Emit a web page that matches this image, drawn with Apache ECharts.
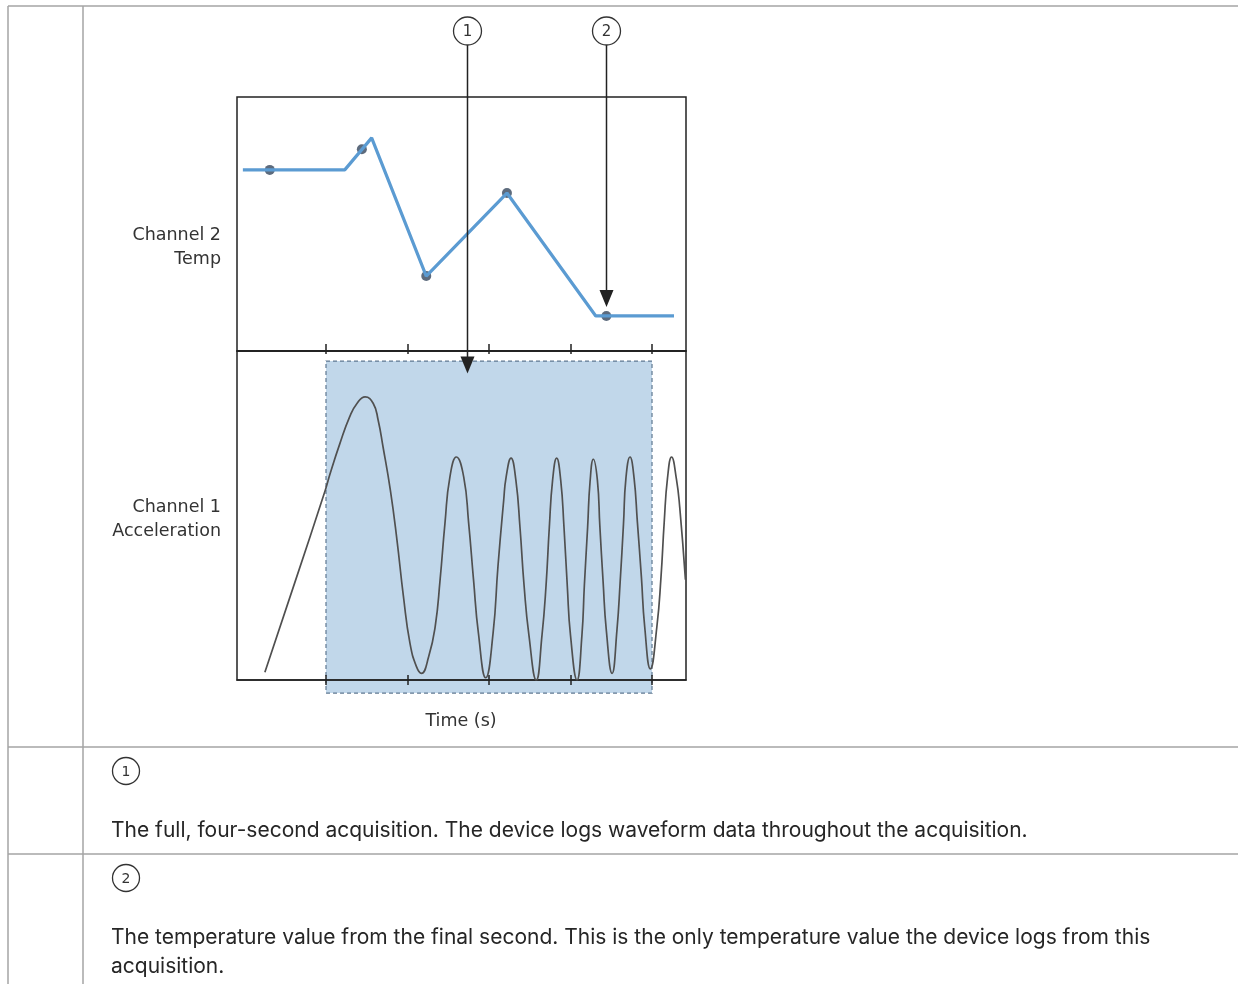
<!DOCTYPE html>
<html>
<head>
<meta charset="utf-8">
<title>Channel logging</title>
<script src="https://cdn.jsdelivr.net/npm/echarts@6/dist/echarts.min.js"></script>
<style>
  html, body { margin: 0; padding: 0; background: #fff; }
  #main { width: 1238px; height: 984px; }
</style>
</head>
<body>
<div id="main"></div>
<script>
// 时间刻度 (s)
const timeTicks = [0, 1, 2, 3, 4];
// 采集窗口 [start, end] (s)
const acqWindow = [0, 4];

// Channel 2 Temp: 折线顶点 [t, value]
const tempLine = [
  [-1.02, 71.3], [0.23, 71.3], [0.56, 83.9], [1.23, 29.5],
  [2.22, 62.2], [3.31, 13.8], [4.27, 13.8]
];
// Channel 2 Temp: 记录点
const tempSamples = [
  [-0.69, 71.3], [0.44, 79.4], [1.23, 29.5], [2.22, 62.2], [3.44, 13.8]
];

// Channel 1 Acceleration: 波形 [t, value]
const accelWave = [
  [-0.75, -0.93], [-0.38, -0.12], [-0.01, 0.70], [0.05, 0.85], [0.17, 1.12],
  [0.29, 1.36], [0.38, 1.48], [0.48, 1.54], [0.58, 1.48], [0.64, 1.33],
  [0.70, 1.09], [0.79, 0.70], [0.87, 0.26], [0.95, -0.25], [1.03, -0.67],
  [1.11, -0.88], [1.17, -0.94],
  [1.26, -0.79], [1.34, -0.52], [1.40, -0.10], [1.46, 0.41], [1.52, 0.82], [1.60, 1.00],
  [1.69, 0.82], [1.75, 0.41], [1.81, -0.10], [1.87, -0.58], [1.96, -0.98],
  [2.05, -0.58], [2.11, 0.02], [2.18, 0.61], [2.21, 0.82], [2.27, 0.99],
  [2.33, 0.79], [2.38, 0.37], [2.43, -0.15], [2.49, -0.60], [2.58, -1.00],
  [2.65, -0.60], [2.70, -0.15], [2.74, 0.37], [2.78, 0.79], [2.83, 0.99],
  [2.88, 0.79], [2.92, 0.37], [2.96, -0.15], [3.00, -0.60], [3.08, -1.00],
  [3.14, -0.60], [3.17, -0.15], [3.21, 0.37], [3.24, 0.78], [3.28, 0.98],
  [3.33, 0.79], [3.36, 0.38], [3.40, -0.12], [3.44, -0.56], [3.51, -0.94],
  [3.57, -0.55], [3.61, -0.11], [3.65, 0.40], [3.68, 0.81], [3.73, 1.00],
  [3.78, 0.81], [3.82, 0.42], [3.87, -0.08], [3.91, -0.52], [3.98, -0.90],
  [4.06, -0.52], [4.11, -0.08], [4.15, 0.42], [4.19, 0.81], [4.24, 1.00],
  [4.30, 0.80], [4.34, 0.55], [4.41, -0.10]
];

// 标注: 编号, 指向的数据点, 所在 grid
const callouts = [
  { label: "1", at: [1.73, 1.75], grid: 1 },
  { label: "2", at: [3.44, 17.3], grid: 0 }
];

// 表格说明文字
const notes = [
  { label: "1", lines: ["The full, four-second acquisition. The device logs waveform data throughout the acquisition."] },
  { label: "2", lines: ["The temperature value from the final second. This is the only temperature value the device logs from this", "acquisition."] }
];

const xMin = -1.092, xMax = 4.417;
const labelFont = "DejaVu Sans";
const bodyFont = "Inter";
const ink = "#222";

let myChart = echarts.init(document.getElementById("main"), null, { renderer: "canvas" });

function timeAxis (gridIndex, position, inside, length, showLine) {
  return {
    type: "value", gridIndex: gridIndex, position: position,
    min: xMin, max: xMax,
    axisLine: { show: showLine, onZero: false, lineStyle: { color: ink, width: 1.5 } },
    axisTick: { show: true, customValues: timeTicks, inside: inside, length: length, lineStyle: { color: ink, width: 1.5 } },
    axisLabel: { show: false },
    splitLine: { show: false }
  };
}

let option = {
  animation: false,
  grid: [
    { left: 237, top: 97, width: 449, height: 254, show: true, borderColor: ink, borderWidth: 1.5 },
    { left: 237, top: 351, width: 449, height: 329, show: true, borderColor: ink, borderWidth: 1.5 }
  ],
  xAxis: [
    timeAxis(0, "bottom", true, 7, true),
    timeAxis(1, "bottom", true, 5, true),
    timeAxis(1, "bottom", false, 5, false),
    timeAxis(1, "top", true, 3, false)
  ],
  yAxis: [
    { type: "value", gridIndex: 0, min: 0, max: 100, show: false },
    { type: "value", gridIndex: 1, min: -1, max: 1.951, show: false }
  ],
  series: [
    {
      // 采集窗口阴影
      type: "custom",
      xAxisIndex: 1, yAxisIndex: 1,
      clip: false,
      z: -1,
      data: [[acqWindow[0], acqWindow[1], 1.861, -1.117]],
      encode: { x: [0, 1], y: [2, 3] },
      renderItem: function (params, api) {
        let p0 = api.coord([api.value(0), api.value(2)]);
        let p1 = api.coord([api.value(1), api.value(3)]);
        return {
          type: "rect",
          shape: { x: p0[0], y: p0[1], width: p1[0] - p0[0], height: p1[1] - p0[1] },
          style: { fill: "#c1d7ea", stroke: "#5f7891", lineWidth: 1.2, lineDash: [4, 3] }
        };
      }
    },
    {
      type: "line",
      xAxisIndex: 1, yAxisIndex: 1,
      data: accelWave,
      smooth: 0.5,
      showSymbol: false,
      lineStyle: { color: "#505050", width: 1.7 }
    },
    {
      type: "line",
      xAxisIndex: 0, yAxisIndex: 0,
      data: tempLine,
      showSymbol: false,
      lineStyle: { color: "#5b9bd2", width: 3.2 }
    },
    {
      type: "scatter",
      xAxisIndex: 0, yAxisIndex: 0,
      data: tempSamples,
      symbolSize: 10,
      itemStyle: { color: "#34465c" }
    }
  ]
};
myChart.setOption(option);

// 表格线、文字、标注
function circleMark (cx, cy, r, label, size) {
  return [
    { type: "circle", z: 100, shape: { cx: cx, cy: cy, r: r }, style: { fill: "#fff", stroke: "#333", lineWidth: 1.3 } },
    { type: "text", z: 101, x: cx, y: cy + 1, style: { text: label, fill: "#333", font: size + "px " + labelFont, align: "center", verticalAlign: "middle" } }
  ];
}

let elements = [];
let tableLine = { stroke: "#a5a5a5", lineWidth: 1.5 };
elements.push({ type: "line", shape: { x1: 8, y1: 6, x2: 1238, y2: 6 }, style: tableLine });
elements.push({ type: "line", shape: { x1: 8, y1: 6, x2: 8, y2: 984 }, style: tableLine });
elements.push({ type: "line", shape: { x1: 83, y1: 6, x2: 83, y2: 984 }, style: tableLine });
elements.push({ type: "line", shape: { x1: 8, y1: 747, x2: 1238, y2: 747 }, style: tableLine });
elements.push({ type: "line", shape: { x1: 8, y1: 854, x2: 1238, y2: 854 }, style: tableLine });

// 通道标签
let chLabels = [
  { lines: ["Channel 2", "Temp"], y: 235 },
  { lines: ["Channel 1", "Acceleration"], y: 507 }
];
chLabels.forEach(function (c) {
  c.lines.forEach(function (t, i) {
    elements.push({ type: "text", x: 221, y: c.y + i * 24, style: { text: t, fill: "#333", font: "17.5px " + labelFont, align: "right", verticalAlign: "middle" } });
  });
});
elements.push({ type: "text", x: 461, y: 721, style: { text: "Time (s)", fill: "#333", font: "17.5px " + labelFont, align: "center", verticalAlign: "middle" } });

// 标注箭头
callouts.forEach(function (c) {
  let p = myChart.convertToPixel({ gridIndex: c.grid }, c.at);
  let x = Math.round(p[0]) + 0.5, tip = p[1];
  elements.push({ type: "line", z: 100, shape: { x1: x, y1: 45, x2: x, y2: tip - 8 }, style: { stroke: ink, lineWidth: 1.5 } });
  elements.push({ type: "polygon", z: 100, shape: { points: [[x - 7, tip - 17], [x + 7, tip - 17], [x, tip]] }, style: { fill: ink } });
  elements = elements.concat(circleMark(x, 31, 14, c.label, 15));
});

// 说明文字
let noteTops = [747, 854];
notes.forEach(function (n, i) {
  let top = noteTops[i];
  elements = elements.concat(circleMark(126, top + 24, 13.5, n.label, 14));
  n.lines.forEach(function (t, j) {
    elements.push({ type: "text", x: 111, y: top + 84 + j * 29, style: { text: t, fill: "#262626", font: "21px " + bodyFont, align: "left", verticalAlign: "middle" } });
  });
});

myChart.setOption({ graphic: { elements: elements } });
</script>
</body>
</html>
